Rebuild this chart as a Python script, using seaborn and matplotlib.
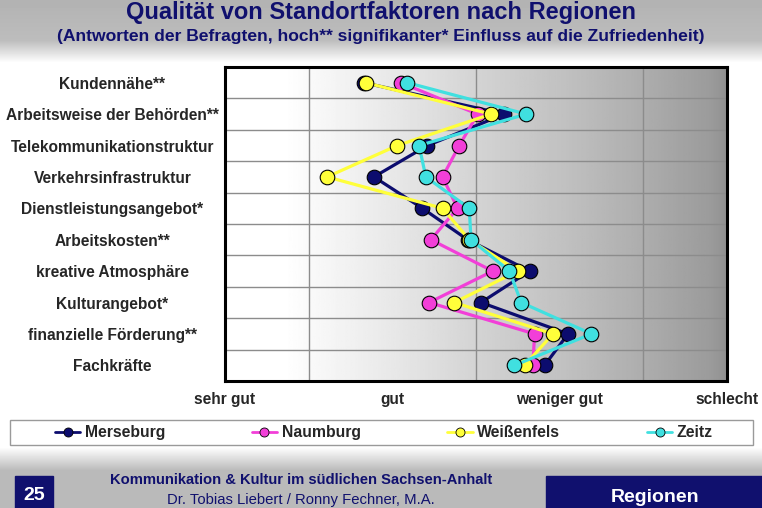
import numpy as np
import pandas as pd
import matplotlib.pyplot as plt
import seaborn as sns
from matplotlib.lines import Line2D

# data (1 = sehr gut ... 4 = schlecht)
factors = ["Kundennähe**", "Arbeitsweise der Behörden**", "Telekommunikationstruktur",
           "Verkehrsinfrastruktur", "Dienstleistungsangebot*", "Arbeitskosten**",
           "kreative Atmosphäre", "Kulturangebot*", "finanzielle Förderung**", "Fachkräfte"]
regions = ["Merseburg", "Naumburg", "Weißenfels", "Zeitz"]
merseburg = [1.83, 2.67, 2.21, 1.89, 2.18, 2.45, 2.82, 2.53, 3.05, 2.91]
naumburg = [2.05, 2.51, 2.40, 2.30, 2.39, 2.23, 2.60, 2.22, 2.85, 2.84]
weissenfels = [1.84, 2.59, 2.03, 1.61, 2.30, 2.46, 2.75, 2.37, 2.96, 2.79]
zeitz = [2.09, 2.80, 2.16, 2.20, 2.46, 2.47, 2.70, 2.77, 3.19, 2.73]
rating_labels = ["sehr gut", "gut", "weniger gut", "schlecht"]
rating_ticks = [1, 2, 3, 4]

colors = {"Merseburg": "#0c0c6e", "Naumburg": "#f23fd8",
          "Weißenfels": "#ffff3a", "Zeitz": "#40e0e0"}
navy = "#10106e"

rows = []
for reg, vals in zip(regions, [merseburg, naumburg, weissenfels, zeitz]):
    for i, (f, v) in enumerate(zip(factors, vals)):
        rows.append({"factor": f, "pos": i, "region": reg, "value": v})
df = pd.DataFrame(rows)

sns.set_style("white")
plt.rcParams["font.family"] = ["Liberation Sans", "DejaVu Sans"]

fig = plt.figure(figsize=(7.62, 5.08), dpi=100)

# slide background: grey header and footer bands
bg = fig.add_axes([0, 0, 1, 1], zorder=-5)
ypix = np.arange(508)
shade = np.interp(ypix, [0, 40, 62, 447, 470, 508], [0.70, 0.74, 1.0, 1.0, 0.73, 0.73])
bg.imshow(np.repeat(shade[:, None], 4, axis=1), cmap="gray", vmin=0, vmax=1,
          aspect="auto", extent=[0, 1, 0, 1], origin="upper")
bg.set_axis_off()

ax = fig.add_axes([225 / 762, 1 - 381 / 508, 502 / 762, 314 / 508])

# plot area gradient white -> grey
xs = np.linspace(1, 4, 300)
g = np.interp(xs, [1.0, 1.35, 2.0, 2.5, 3.0, 3.5, 3.9, 4.0],
              [1.0, 1.0, 0.91, 0.83, 0.76, 0.68, 0.61, 0.57])
ax.imshow(g[None, :], cmap="gray", vmin=0, vmax=1, aspect="auto",
          extent=[1, 4, 9.5, -0.5], zorder=0)

sns.lineplot(data=df, x="value", y="pos", hue="region", hue_order=regions,
             palette=colors, orient="y", sort=False, estimator=None,
             marker="o", markersize=10.5, markeredgecolor="black",
             markeredgewidth=0.8, linewidth=2.3, legend=False, ax=ax, zorder=3)

ax.set_xlim(1, 4)
ax.set_ylim(9.5, -0.5)
ax.set_xticks(rating_ticks)
ax.set_xticklabels(rating_labels, fontsize=11.2, fontweight="bold", va="baseline")
ax.set_xticks(np.arange(1.5, 4, 0.5), minor=True)
ax.set_yticks(range(len(factors)))
ax.set_yticklabels(factors, fontsize=11.2, fontweight="bold", ha="center")
ax.set_yticks(np.arange(0.5, 9, 1), minor=True)
ax.tick_params(axis="both", which="both", length=0)
ax.tick_params(axis="y", pad=81)
ax.tick_params(axis="x", pad=16.5)
ax.grid(False)
ax.grid(which="minor", color="#8c8c8c", linewidth=1.0, zorder=1)
ax.set_axisbelow(True)
ax.set_xlabel("")
ax.set_ylabel("")
for sp in ax.spines.values():
    sp.set_visible(True)
    sp.set_color("black")
    sp.set_linewidth(2.2)

# legend box and entries
fig.patches.append(plt.Rectangle((10 / 762, 1 - 445 / 508), 743 / 762, 25 / 508,
                                 transform=fig.transFigure, facecolor="white",
                                 edgecolor="#9a9a9a", linewidth=1.0, zorder=1))
handles = [Line2D([], [], color=colors[r], marker="o", markersize=6.5,
                  markeredgecolor="black", markeredgewidth=0.6, linewidth=2)
           for r in regions]
leg = fig.legend(handles, regions, loc="center", ncol=4, mode="expand",
                 bbox_to_anchor=(55 / 762, 1 - 445 / 508, 658 / 762, 25 / 508),
                 frameon=False, prop={"weight": "bold", "size": 11.3},
                 handlelength=1.6, handletextpad=0.3, borderaxespad=0, borderpad=0)

# titles
fig.text(0.5, 1 - 12 / 508, "Qualität von Standortfaktoren nach Regionen",
         ha="center", va="center", fontsize=17, fontweight="bold", color=navy)
fig.text(0.5, 1 - 36 / 508,
         "(Antworten der Befragten, hoch** signifikanter* Einfluss auf die Zufriedenheit)",
         ha="center", va="center", fontsize=12.6, fontweight="bold", color=navy)

# footer
fig.patches.append(plt.Rectangle((15 / 762, 0), 38 / 762, 32 / 508,
                                 transform=fig.transFigure, color=navy, zorder=2))
fig.patches.append(plt.Rectangle((546 / 762, 0), 216 / 762, 32 / 508,
                                 transform=fig.transFigure, color=navy, zorder=2))
fig.text(34 / 762, 1 - 496 / 508, "25", ha="center", va="center",
         fontsize=14, fontweight="bold", color="white")
fig.text(655 / 762, 1 - 497 / 508, "Regionen", ha="center", va="center",
         fontsize=14, fontweight="bold", color="white")
fig.text(301 / 762, 1 - 480 / 508, "Kommunikation & Kultur im südlichen Sachsen-Anhalt",
         ha="center", va="center", fontsize=10.6, fontweight="bold", color=navy)
fig.text(301 / 762, 1 - 500 / 508, "Dr. Tobias Liebert / Ronny Fechner, M.A.",
         ha="center", va="center", fontsize=10.7, color=navy)

fig.savefig("out.png", dpi=100)
